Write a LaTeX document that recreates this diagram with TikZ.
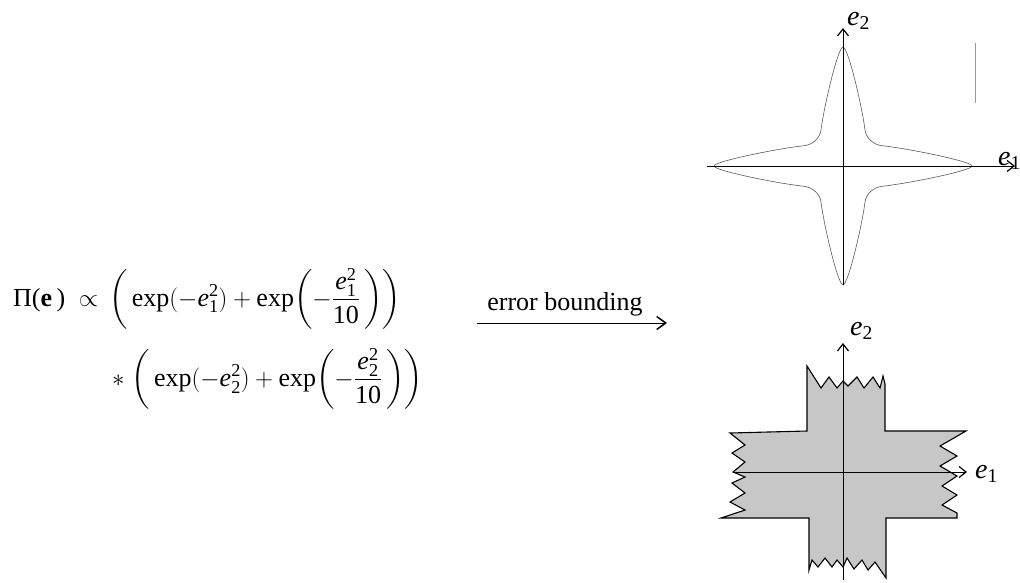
\documentclass[tikz,border=0pt]{standalone}
\usepackage{amsmath}
\usepackage{fontspec}
\setmainfont{Liberation Serif}
\usetikzlibrary{arrows.meta}
\newcommand{\ee}{\text{\itshape e}}
\newcommand{\dg}[1]{\text{\upshape #1}}
\definecolor{crossfill}{gray}{0.78}
\begin{document}
\begin{tikzpicture}[x=1pt,y=1pt,
  axis/.style={line width=0.9pt,-{Straight Barb[length=7pt,width=11pt,line width=1.2pt]}},
  mainarrow/.style={line width=0.9pt,-{Straight Barb[length=9pt,width=13pt,line width=1.5pt]}},
  formula/.style={anchor=base west,inner sep=0pt,font=\fontsize{26}{31}\selectfont},
  axlabel/.style={anchor=base west,inner sep=0pt,font=\fontsize{28}{34}\selectfont},
  starline/.style={draw=black!65,line width=0.6pt},
  crossshape/.style={draw=black,fill=crossfill,line width=1.1pt,line join=miter}]
\useasboundingbox (0,0) rectangle (1020,-582);

% formula
\node[formula] (line1) at (13,-306)
  {$\text{Π(\bfseries e\mdseries\,)}\;\propto\,\biggl(\,\exp(-\ee_{\dg{1}}^{\dg{2}})+\exp\biggl(-\dfrac{\ee_{\dg{1}}^{\dg{2}}}{\dg{10}}\,\biggr)\biggr)$};
\node[formula] (line2) at (112,-386)
  {$\ast\;\biggl(\,\exp(-\ee_{\dg{2}}^{\dg{2}})+\exp\biggl(-\dfrac{\ee_{\dg{2}}^{\dg{2}}}{\dg{10}}\,\biggr)\biggr)$};

% main arrow
\coordinate (arrS) at (477,-323);
\coordinate (arrE) at (667,-323);
\draw[mainarrow] (arrS) -- (arrE);
\node[anchor=base,inner sep=0pt,font=\fontsize{26}{31}\selectfont] (lbl) at (565,-310) {error bounding};

% top plot: star contour
\begin{scope}[shift={(843,-166)}]
\draw[starline]
 (0,119) .. controls (5,119) and (19,60) .. (22,36) .. controls (23,28) and (30.4,21.2) .. (39,20.3) .. controls (65.1,17.5) and (129,4.6) .. (129,0)
 .. controls (129,-4.6) and (65.1,-17.5) .. (39,-20.3) .. controls (30.4,-21.2) and (23,-28) .. (22,-36) .. controls (19,-60) and (5,-119) .. (0,-119)
 .. controls (-5,-119) and (-19,-60) .. (-22,-36) .. controls (-23,-28) and (-30.4,-21.2) .. (-39,-20.3) .. controls (-65.1,-17.5) and (-129,-4.6) .. (-129,0)
 .. controls (-129,4.6) and (-65.1,17.5) .. (-39,20.3) .. controls (-30.4,21.2) and (-23,28) .. (-22,36) .. controls (-19,60) and (-5,119) .. (0,119) -- cycle;
\end{scope}
\coordinate (t0) at (843,-285);
\coordinate (t1) at (843,-28);
\coordinate (t2) at (707,-166);
\coordinate (t3) at (1015,-166);
\draw[axis] (t0) -- (t1);
\draw[axis] (t2) -- (t3);
\node[axlabel] (te2) at (847,-25) {\itshape e\textsubscript{\upshape 2}};
\node[axlabel] (te1) at (998,-165) {\itshape e\textsubscript{\upshape 1}};
\draw[black!40,line width=0.6pt] (975,-43) -- (975,-103);

% bottom plot: bounding cross
\path[crossshape] (807,-366) -- (821,-388) -- (829,-377) -- (837,-388) -- (843,-381) -- (848,-386) -- (857,-377) -- (864,-388) -- (873,-377) -- (880,-388) -- (883,-376) -- (885,-384)
 -- (885,-431) -- (966,-431)
 -- (940,-446) -- (957,-456) -- (940,-466) -- (957,-476) -- (942,-486) -- (957,-495) -- (942,-505) -- (957,-513) -- (957,-518)
 -- (886,-518) -- (886,-578)
 -- (875,-562) -- (868,-570) -- (862,-560) -- (854,-569) -- (847,-558) -- (843,-567) -- (837,-560) -- (832,-567) -- (825,-558) -- (818,-567) -- (812,-560) -- (809,-570)
 -- (809,-518) -- (721,-518)
 -- (745,-510) -- (730,-502) -- (745,-493) -- (732,-483) -- (745,-477) -- (733,-472) -- (745,-462) -- (732,-453) -- (745,-445) -- (730,-433)
 -- (807,-431) -- cycle;
\coordinate (b0) at (843,-580);
\coordinate (b1) at (843,-343);
\coordinate (b2) at (733,-472);
\coordinate (b3) at (967,-472);
\draw[axis] (b0) -- (b1);
\draw[axis] (b2) -- (b3);
\node[axlabel] (be2) at (850,-335) {\itshape e\textsubscript{\upshape 2}};
\node[axlabel] (be1) at (975,-478) {\itshape e\textsubscript{\upshape 1}};
\end{tikzpicture}
\end{document}
